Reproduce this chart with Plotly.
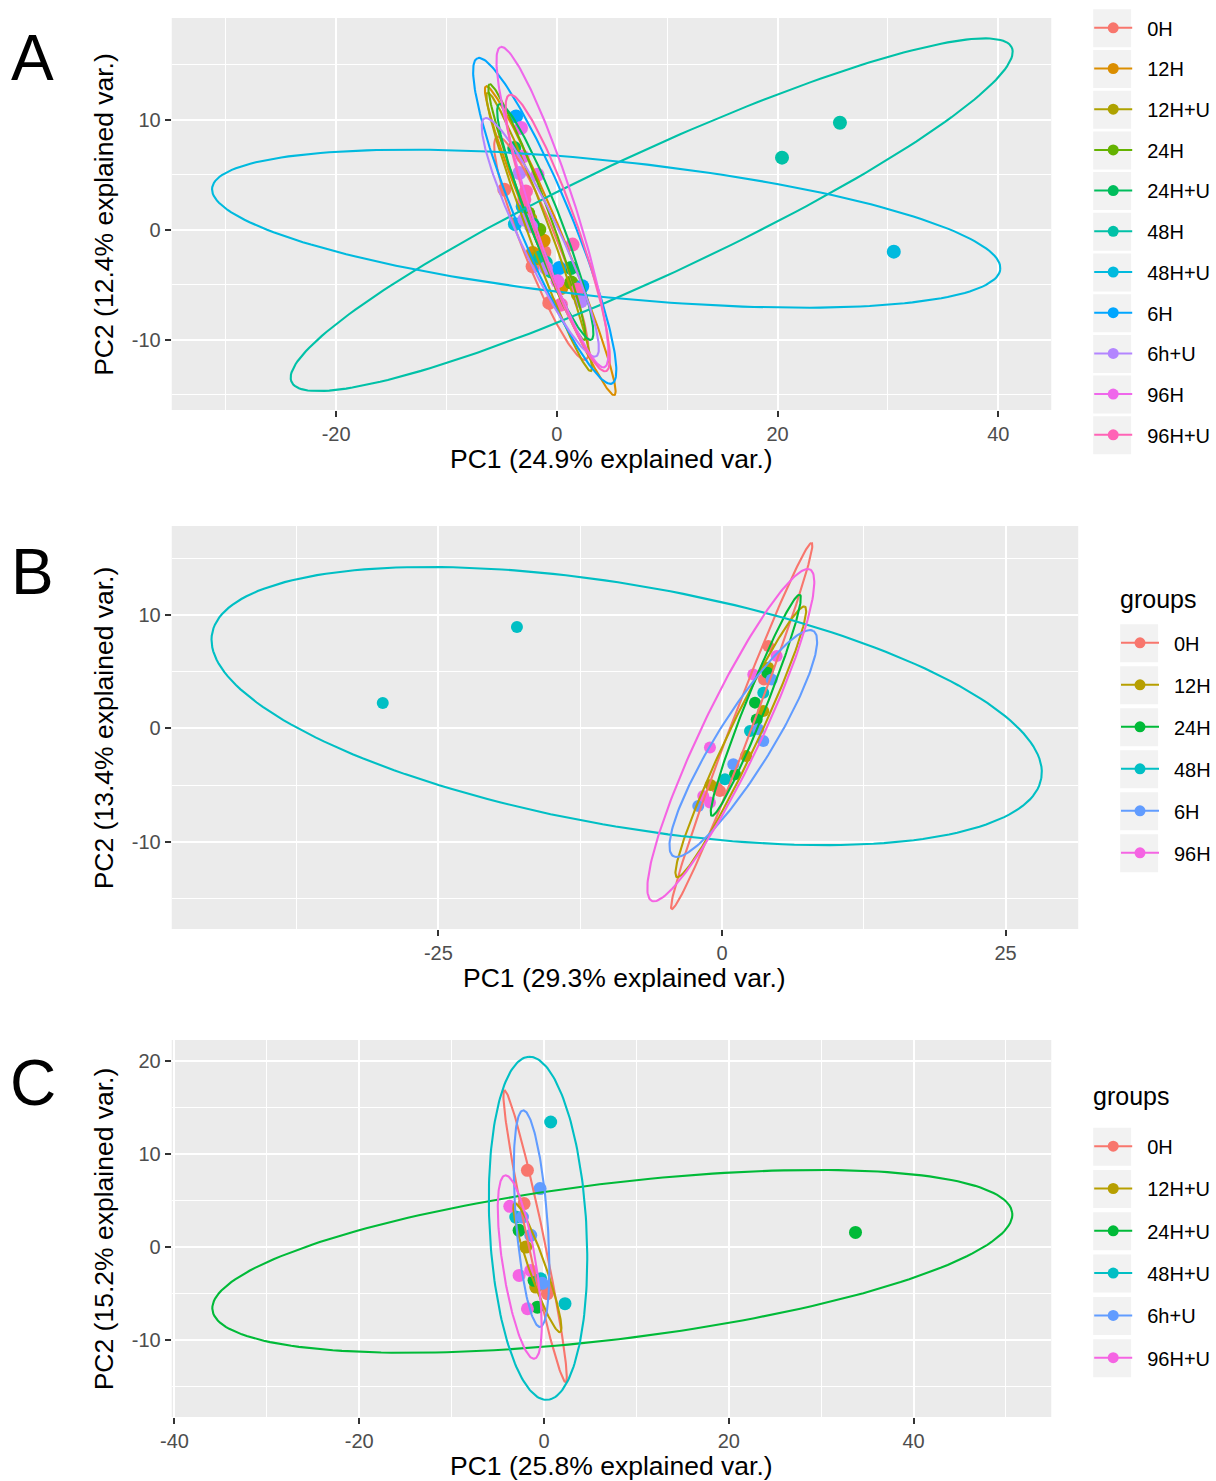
import numpy as np
import plotly.graph_objects as go

FIG_W, FIG_H = 1216, 1481
FONT = "Liberation Sans, Arial, Helvetica, sans-serif"

# ---------------- Panel A data ----------------
A_groups = ["0H", "12H", "12H+U", "24H", "24H+U", "48H", "48H+U", "6H", "6h+U", "96H", "96H+U"]
A_colors = ["#F8766D", "#DB8E00", "#AEA200", "#64B200", "#00BD5C", "#00C1A7",
            "#00BADE", "#00A6FF", "#B385FF", "#EF67EB", "#FF63B6"]
A_pt_group = ["0H"] * 4 + ["12H"] * 3 + ["12H+U"] * 3 + ["24H"] * 3 + ["24H+U"] * 3 + \
             ["48H"] * 5 + ["48H+U"] * 3 + ["6H"] * 4 + ["6h+U"] * 5 + ["96H"] * 4 + ["96H+U"] * 5
A_pt_pc1 = [-4.76, -1.14, -2.20, -0.69,
            -2.20, 0.40, -1.20,
            -1.90, 1.90, -2.40,
            -1.59, -2.60, 1.30,
            -3.86, 1.28, -2.20,
            20.40, 25.65, -1.50, -0.50, -1.00,
            30.53, -3.10, -3.80,
            -3.70, 0.22, 2.30, -3.04,
            -3.40, -2.95, -2.34, -0.99, 2.18,
            -3.25, -3.10, -1.75, 0.06,
            -2.80, -2.95, 1.42, 1.87, 0.37]
A_pt_pc2 = [3.64, -2.06, -3.34, -6.66,
            -2.12, -5.30, -1.00,
            -2.60, -5.90, 1.00,
            0.00, 1.50, -4.80,
            7.43, -3.48, 0.50,
            6.55, 9.73, -2.50, -3.80, -3.00,
            -2.00, 2.10, 0.50,
            10.30, -3.48, -5.15, 2.27,
            5.15, 0.91, 0.30, -3.48, -6.52,
            9.25, 6.66, 5.00, -4.70,
            3.48, 2.73, -1.36, -5.45, -6.82]
# ellipse parameters per group (centre, semi-axes, rotation in degrees)
A_ell_cx = [-1.40, -0.60, -1.60, -1.80, -1.05, 8.59, 4.47, -1.10, -1.50, -0.40, 0.08]
A_ell_cy = [-1.70, -1.00, -0.20, 1.60, 0.70, 1.36, 0.09, 0.80, -0.70, 2.05, -0.30]
A_ell_a = [10.9, 15.2, 13.5, 12.4, 11.5, 36.0, 35.9, 16.0, 11.95, 15.3, 13.3]
A_ell_b = [1.6, 1.2, 1.0, 1.0, 1.4, 5.6, 6.2, 2.4, 1.8, 2.0, 1.9]
A_ell_ang = [111.6, 112.5, 110.3, 110.3, 111.2, 25.0, -5.9, 112.4, 115.0, 107.9, 109.2]
A_xticks = [-20, 0, 20, 40]
A_xminor = [-30, -10, 10, 30]
A_yticks = [-10, 0, 10]
A_yminor = [-15, -5, 5, 15]
A_xtitle = "PC1 (24.9% explained var.)"
A_ytitle = "PC2 (12.4% explained var.)"

# ---------------- Panel B data ----------------
B_groups = ["0H", "12H", "24H", "48H", "6H", "96H"]
B_colors = ["#F8766D", "#B79F00", "#00BA38", "#00BFC4", "#619CFF", "#F564E3"]
B_pt_group = ["0H"] * 4 + ["12H"] * 4 + ["24H"] * 4 + ["48H"] * 5 + ["6H"] * 5 + ["96H"] * 5
B_pt_pc1 = [4.08, 3.70, -0.47, -0.18,
            4.08, 3.64, 2.12, -1.00,
            2.91, 3.06, 1.15, 4.00,
            -29.90, -18.07, 3.64, 2.47, 0.26,
            4.38, 3.20, 3.64, 1.00, -2.09,
            4.82, 2.76, -1.06, -1.65, -1.06]
B_pt_pc2 = [7.26, 4.32, -5.23, -5.53,
            5.35, 1.53, -2.44, -5.00,
            2.27, 0.79, -4.06, 4.90,
            2.23, 8.94, 3.15, -0.24, -4.50,
            4.32, -0.09, -1.12, -3.17, -6.85,
            6.38, 4.76, -1.70, -5.97, -6.55]
B_ell_cx = [1.74, 1.66, 2.98, -8.40, 1.88, 0.78]
B_ell_cy = [0.21, -1.19, 2.04, 1.97, -1.34, -0.60]
B_ell_a = [17.3, 13.2, 10.5, 37.1, 11.7, 16.2]
B_ell_b = [0.9, 1.3, 0.9, 10.65, 2.4, 2.6]
B_ell_ang = [69.1, 64.7, 68.3, -9.9, 58.1, 64.5]
B_xticks = [-25, 0, 25]
B_xminor = [-37.5, -12.5, 12.5]
B_yticks = [-10, 0, 10]
B_yminor = [-15, -5, 5, 15]
B_xtitle = "PC1 (29.3% explained var.)"
B_ytitle = "PC2 (13.4% explained var.)"

# ---------------- Panel C data ----------------
C_groups = ["0H", "12H+U", "24H+U", "48H+U", "6h+U", "96H+U"]
C_colors = ["#F8766D", "#B79F00", "#00BA38", "#00BFC4", "#619CFF", "#F564E3"]
C_pt_group = ["0H"] * 4 + ["12H+U"] * 2 + ["24H+U"] * 4 + ["48H+U"] * 4 + ["6h+U"] * 4 + ["96H+U"] * 4
C_pt_pc1 = [-1.80, -2.16, 0.36, 0.36,
            -1.98, -0.90,
            -2.70, -1.08, -0.72, 33.71,
            0.72, -3.06, -0.36, 2.27,
            -0.43, -2.34, -1.44, -0.20,
            -3.71, -2.70, -1.44, -1.80]
C_pt_pc2 = [8.27, 4.68, -4.48, -5.02,
            0.00, -4.31,
            1.80, -3.58, -6.47, 1.58,
            13.47, 3.23, -3.41, -6.10,
            6.30, 3.23, 1.26, -3.90,
            4.39, -3.05, -2.51, -6.64]
C_ell_cx = [-0.97, -0.72, 7.39, -0.65, -1.35, -2.63]
C_ell_cy = [1.17, -2.22, -1.54, 2.02, 3.06, -2.15]
C_ell_a = [16.07, 7.36, 43.6, 18.5, 11.7, 10.0]
C_ell_b = [0.9, 0.9, 8.4, 5.24, 1.7, 1.8]
C_ell_ang = [101.9, 109.5, 6.9, 93.1, 94.5, 99.1]
C_xticks = [-40, -20, 0, 20, 40]
C_xminor = [-30, -10, 10, 30, 50]
C_yticks = [-10, 0, 10, 20]
C_yminor = [-15, -5, 5, 15]
C_xtitle = "PC1 (25.8% explained var.)"
C_ytitle = "PC2 (15.2% explained var.)"

LEGEND_TITLE = "groups"


def ellipse(cx, cy, a, b, ang_deg, n=200):
    t = np.linspace(0, 2 * np.pi, n)
    th = np.deg2rad(ang_deg)
    x = cx + a * np.cos(t) * np.cos(th) - b * np.sin(t) * np.sin(th)
    y = cy + a * np.cos(t) * np.sin(th) + b * np.sin(t) * np.cos(th)
    return x, y


def px_x(v):
    return v / FIG_W


def px_y(v):
    return 1 - v / FIG_H


panels = [
    dict(label="A", groups=A_groups, colors=A_colors, pg=A_pt_group, p1=A_pt_pc1, p2=A_pt_pc2,
         ecx=A_ell_cx, ecy=A_ell_cy, ea=A_ell_a, eb=A_ell_b, eang=A_ell_ang,
         xt=A_xticks, xm=A_xminor, yt=A_yticks, ym=A_yminor, xtitle=A_xtitle, ytitle=A_ytitle,
         xr=[-34.9, 44.8], yr=[-16.4, 19.25], left=172, right=1053, top=18, bottom=410,
         msize=14, legend="legend", lab_y=58),
    dict(label="B", groups=B_groups, colors=B_colors, pg=B_pt_group, p1=B_pt_pc1, p2=B_pt_pc2,
         ecx=B_ell_cx, ecy=B_ell_cy, ea=B_ell_a, eb=B_ell_b, eang=B_ell_ang,
         xt=B_xticks, xm=B_xminor, yt=B_yticks, ym=B_yminor, xtitle=B_xtitle, ytitle=B_ytitle,
         xr=[-48.5, 31.4], yr=[-17.71, 17.86], left=172, right=1080, top=526, bottom=929,
         msize=12, legend="legend2", lab_y=572),
    dict(label="C", groups=C_groups, colors=C_colors, pg=C_pt_group, p1=C_pt_pc1, p2=C_pt_pc2,
         ecx=C_ell_cx, ecy=C_ell_cy, ea=C_ell_a, eb=C_ell_b, eang=C_ell_ang,
         xt=C_xticks, xm=C_xminor, yt=C_yticks, ym=C_yminor, xtitle=C_xtitle, ytitle=C_ytitle,
         xr=[-40.3, 54.9], yr=[-18.3, 22.3], left=172, right=1053, top=1040, bottom=1417,
         msize=13, legend="legend3", lab_y=1083),
]

fig = go.Figure()
layout_axes = {}
annotations = []
shapes = []

for i, p in enumerate(panels):
    sfx = "" if i == 0 else str(i + 1)
    xa, ya = "x" + sfx, "y" + sfx
    # points
    for g, c in zip(p["groups"], p["colors"]):
        idx = [k for k, gg in enumerate(p["pg"]) if gg == g]
        fig.add_trace(go.Scatter(
            x=[p["p1"][k] for k in idx], y=[p["p2"][k] for k in idx],
            mode="markers", marker=dict(color=c, size=p["msize"]),
            xaxis=xa, yaxis=ya, showlegend=False, hoverinfo="skip"))
    # ellipses
    for j, (g, c) in enumerate(zip(p["groups"], p["colors"])):
        ex, ey = ellipse(p["ecx"][j], p["ecy"][j], p["ea"][j], p["eb"][j], p["eang"][j])
        fig.add_trace(go.Scatter(
            x=ex, y=ey, mode="lines", line=dict(color=c, width=2.1),
            xaxis=xa, yaxis=ya, showlegend=False, hoverinfo="skip"))
    # legend entries
    for g, c in zip(p["groups"], p["colors"]):
        fig.add_trace(go.Scatter(
            x=[None], y=[None], mode="lines+markers", name="\u2002" + g,
            line=dict(color=c, width=2), marker=dict(color=c, size=11),
            xaxis=xa, yaxis=ya, legend=p["legend"], legendgroup=p["label"] + g,
            showlegend=True))

    common = dict(showgrid=True, gridcolor="white", gridwidth=2, zeroline=False,
                  ticks="outside", ticklen=6, tickwidth=1.5, tickcolor="#333333",
                  tickfont=dict(family=FONT, size=20, color="#4D4D4D"),
                  showline=False, automargin=False, fixedrange=True)
    layout_axes["xaxis" + sfx] = dict(
        common, domain=[px_x(p["left"]), px_x(p["right"])], range=p["xr"],
        tickmode="array", tickvals=p["xt"], ticktext=[str(v) for v in p["xt"]],
        minor=dict(tickmode="array", tickvals=p["xm"], showgrid=True, gridcolor="white",
                   gridwidth=1, ticks=""),
        anchor=ya)
    layout_axes["yaxis" + sfx] = dict(
        common, domain=[px_y(p["bottom"]), px_y(p["top"])], range=p["yr"],
        tickmode="array", tickvals=p["yt"], ticktext=[str(v) for v in p["yt"]],
        minor=dict(tickmode="array", tickvals=p["ym"], showgrid=True, gridcolor="white",
                   gridwidth=1, ticks=""),
        anchor=xa)

    cx = (p["left"] + p["right"]) / 2
    cy = (p["top"] + p["bottom"]) / 2
    annotations.append(dict(text=p["xtitle"], x=px_x(cx), y=px_y(p["bottom"] + 49),
                            xref="paper", yref="paper", xanchor="center", yanchor="middle",
                            showarrow=False, font=dict(family=FONT, size=26.5, color="black")))
    annotations.append(dict(text=p["ytitle"], x=px_x(104), y=px_y(cy), textangle=-90,
                            xref="paper", yref="paper", xanchor="center", yanchor="middle",
                            showarrow=False, font=dict(family=FONT, size=26.5, color="black")))
    annotations.append(dict(text=p["label"], x=px_x(33), y=px_y(p["lab_y"]),
                            xref="paper", yref="paper", xanchor="center", yanchor="middle",
                            showarrow=False, font=dict(family=FONT, size=64, color="black")))

# legend titles for panels B and C
for (tx, ty) in [(1120, 599), (1093, 1096)]:
    annotations.append(dict(text=LEGEND_TITLE, x=px_x(tx), y=px_y(ty), xref="paper", yref="paper",
                            xanchor="left", yanchor="middle", showarrow=False,
                            font=dict(family=FONT, size=25, color="black")))

# legend key backgrounds (light grey squares as in ggplot)
key_specs = [
    (1095, 1133, 28.3, 40.7, len(A_groups)),
    (1122, 1160, 643.3, 42.0, len(B_groups)),
    (1095, 1133, 1146.7, 42.3, len(C_groups)),
]
for (x0, x1, c0, step, n) in key_specs:
    for k in range(n):
        yc = c0 + k * step
        shapes.append(dict(type="rect", xref="paper", yref="paper",
                           x0=px_x(x0), x1=px_x(x1), y0=px_y(yc + 19), y1=px_y(yc - 19),
                           fillcolor="#F2F2F2", line=dict(width=0), layer="below"))

leg_font = dict(family=FONT, size=20, color="black")
fig.update_layout(
    width=FIG_W, height=FIG_H, margin=dict(l=0, r=0, t=0, b=0),
    paper_bgcolor="white", plot_bgcolor="#EBEBEB",
    showlegend=True, hovermode=False,
    annotations=annotations, shapes=shapes,
    legend=dict(x=px_x(1091), y=px_y(8.3), xanchor="left", yanchor="top", font=leg_font,
                tracegroupgap=11.7, itemwidth=38, bgcolor="rgba(0,0,0,0)"),
    legend2=dict(x=px_x(1118), y=px_y(623.3), xanchor="left", yanchor="top", font=leg_font,
                 tracegroupgap=13, itemwidth=38, bgcolor="rgba(0,0,0,0)"),
    legend3=dict(x=px_x(1091), y=px_y(1126.7), xanchor="left", yanchor="top", font=leg_font,
                 tracegroupgap=13.3, itemwidth=38, bgcolor="rgba(0,0,0,0)"),
    **layout_axes,
)

fig.write_html("out.html")
